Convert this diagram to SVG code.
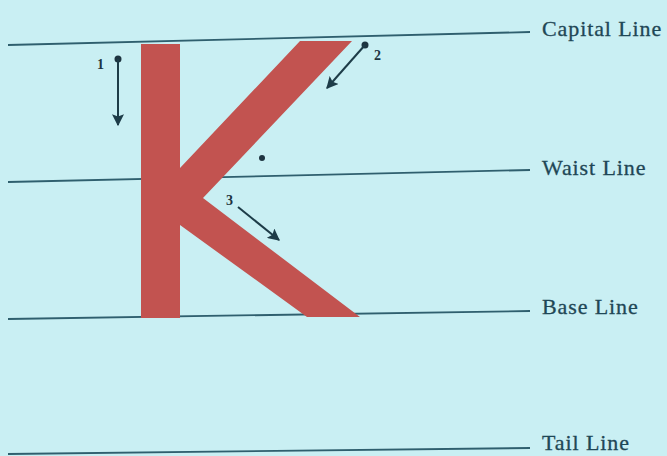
<svg xmlns="http://www.w3.org/2000/svg" width="667" height="456" viewBox="0 0 667 456">
<style>
.guide{stroke:#2f5f6e;stroke-width:1.8;fill:none}
.lbl{font-family:"Liberation Serif",serif;font-size:22px;letter-spacing:0.9px;fill:#1f4756;stroke:#1f4756;stroke-width:0.3}
.num{font-family:"Liberation Serif",serif;font-size:14px;font-weight:bold;fill:#1d3440}
.stroke{stroke:#1d3c48;stroke-width:2;fill:none}
.dot{fill:#1d3440}
.k{fill:#c25350}
</style>
<defs>
<marker id="ah" viewBox="0 0 10 10" refX="9" refY="5" markerWidth="6" markerHeight="6" markerUnits="strokeWidth" orient="auto">
<path d="M0,0 L10,5 L0,10 L2,5 Z" fill="#1d3c48"/>
</marker>
</defs>
<rect width="667" height="456" fill="#c9eff3"/>
<g id="guides">
<line class="guide" x1="8" y1="45" x2="530" y2="32"/>
<line class="guide" x1="8" y1="182" x2="530" y2="170"/>
<line class="guide" x1="8" y1="319" x2="530" y2="311"/>
<line class="guide" x1="8" y1="454" x2="530" y2="448"/>
<text class="lbl" x="542" y="36">Capital Line</text>
<text class="lbl" x="542" y="175">Waist Line</text>
<text class="lbl" x="542" y="314">Base Line</text>
<text class="lbl" x="542" y="450">Tail Line</text>
</g>
<g id="letterK">
<rect class="k" x="141" y="44" width="39" height="274"/>
<polygon class="k" points="300,41 352,41 203,198 360,317 307,317 180,225 180,168"/>
</g>
<g id="connectors">
<circle class="dot" cx="118" cy="59" r="3.5"/>
<line class="stroke" x1="118" y1="59" x2="118" y2="125" marker-end="url(#ah)"/>
<text class="num" x="97" y="69">1</text>
<circle class="dot" cx="365" cy="45" r="3.5"/>
<line class="stroke" x1="365" y1="45" x2="327" y2="88" marker-end="url(#ah)"/>
<text class="num" x="374" y="60">2</text>
<circle class="dot" cx="262" cy="158" r="3"/>
<line class="stroke" x1="238" y1="207" x2="279" y2="240" marker-end="url(#ah)"/>
<text class="num" x="226" y="205">3</text>
</g>
</svg>
